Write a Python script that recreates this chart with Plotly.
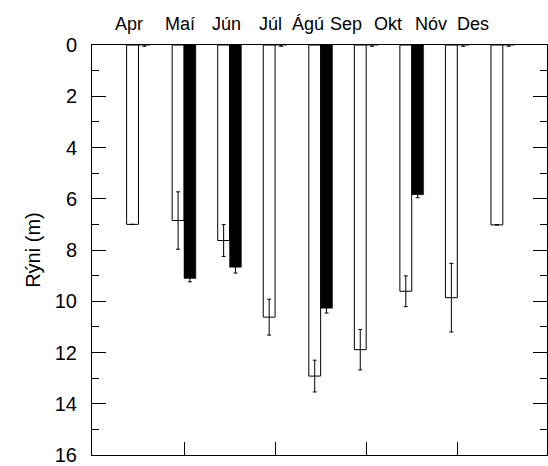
import plotly.graph_objects as go

months = ["Apr", "Maí", "Jún", "Júl", "Ágú", "Sep", "Okt", "Nóv", "Des"]
month_num = [4, 5, 6, 7, 8, 9, 10, 11, 12]
label_pos = [3.80, 4.92, 5.93, 6.89, 7.72, 8.56, 9.47, 10.43, 11.34]

white_depth = [7.0, 6.85, 7.63, 10.62, 12.92, 11.89, 9.61, 9.86, 7.02]
white_err = [0.0, 1.12, 0.62, 0.70, 0.62, 0.79, 0.60, 1.34, 0.0]
black_depth = [0.0, 9.11, 8.67, 0.0, 10.27, 0.0, 5.84, 0.0, 0.0]
black_err = [0.05, 0.13, 0.23, 0.05, 0.19, 0.05, 0.12, 0.05, 0.05]

FONT = "Liberation Sans, Arial, sans-serif"

fig = go.Figure()
fig.add_trace(go.Bar(
    x=month_num, y=white_depth, name="white",
    marker=dict(color="white", line=dict(color="black", width=1)),
    error_y=dict(type="data", array=white_err, color="black", thickness=1, width=2),
))
fig.add_trace(go.Bar(
    x=month_num, y=black_depth, name="black",
    marker=dict(color="black", line=dict(color="black", width=0.5)),
    error_y=dict(type="data", array=black_err, color="black", thickness=1, width=2),
))

for m, p in zip(months, label_pos):
    fig.add_annotation(x=p, xref="x", y=1.0507, yref="paper", text=m,
                       showarrow=False, xanchor="center", yanchor="middle",
                       font=dict(family=FONT, size=18, color="black"))

fig.add_annotation(x=-0.13, xref="paper", y=0.5, yref="paper", text="Rýni (m)",
                   textangle=-90, showarrow=False, xanchor="center", yanchor="middle",
                   font=dict(family=FONT, size=20, color="black"))

fig.update_layout(
    width=548, height=466,
    margin=dict(l=92, r=0, t=45, b=7),
    paper_bgcolor="white", plot_bgcolor="white",
    barmode="group", bargap=0.48, bargroupgap=0,
    showlegend=False,
    font=dict(family=FONT, size=18, color="black"),
    xaxis=dict(range=[2.98, 12.97], tickvals=[5, 7, 9, 11], showticklabels=False,
               ticks="inside", ticklen=13, tickwidth=1, tickcolor="black",
               showline=True, linecolor="black", linewidth=1, mirror=True,
               showgrid=False, zeroline=False),
    yaxis=dict(range=[16, 0], tickvals=[0, 2, 4, 6, 8, 10, 12, 14, 16],
               ticks="inside", ticklen=14, tickwidth=1, tickcolor="black",
               minor=dict(tickvals=[1, 3, 5, 7, 9, 11, 13, 15], ticks="inside",
                          ticklen=7, tickwidth=1, tickcolor="black"),
               showline=True, linecolor="black", linewidth=1, mirror="ticks",
               showgrid=False, zeroline=False, ticklabelstandoff=10,
               ticklabeloverflow="allow",
               tickfont=dict(family=FONT, size=20)),
)

fig.write_html("out.html")
